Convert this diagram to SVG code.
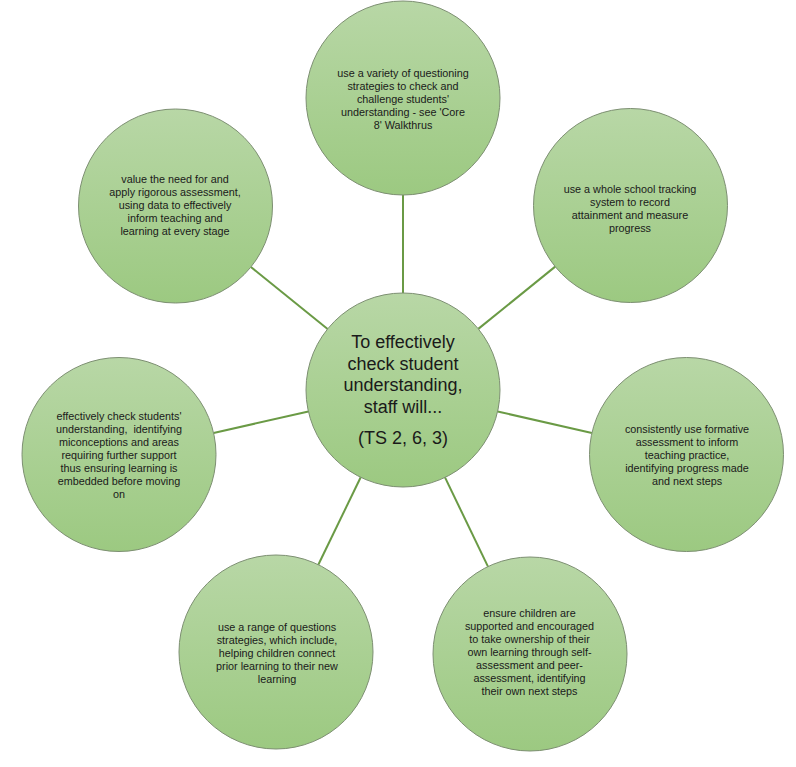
<svg xmlns="http://www.w3.org/2000/svg" width="796" height="767" viewBox="0 0 796 767">
<defs>
<linearGradient id="g" x1="0" y1="0" x2="0" y2="1">
<stop offset="0" stop-color="#b8d7a6"/>
<stop offset="1" stop-color="#9cc981"/>
</linearGradient>
<style>
.c{fill:url(#g);stroke:#7d8f72;stroke-width:1}
.t{font-family:"Liberation Sans",Arial,sans-serif;font-size:10.8px;fill:#1a1a1a;text-anchor:middle;white-space:pre}
.m{font-family:"Liberation Sans",Arial,sans-serif;font-size:18px;fill:#1a1a1a;text-anchor:middle}
.l{stroke:#6a9a45;stroke-width:2;fill:none}
</style>
</defs>
<rect width="796" height="767" fill="#ffffff"/>
<g id="connectors">
<line class="l" x1="403" y1="293" x2="403" y2="195"/>
<line class="l" x1="478.3" y1="328.9" x2="555.2" y2="266.6"/>
<line class="l" x1="497.6" y1="411.5" x2="591.9" y2="433"/>
<line class="l" x1="445" y1="477.4" x2="488" y2="566.6"/>
<line class="l" x1="360.7" y1="477.3" x2="318.3" y2="564.7"/>
<line class="l" x1="308.4" y1="411.5" x2="213.6" y2="433"/>
<line class="l" x1="327.6" y1="329" x2="250.9" y2="267"/>
</g>
<g id="center">
<circle class="c" cx="403" cy="390" r="97"/>
<text class="m"><tspan x="403" y="348">To effectively</tspan><tspan x="403" y="370">check student</tspan><tspan x="403" y="391">understanding,</tspan><tspan x="403" y="413">staff will...</tspan><tspan x="403" y="444">(TS 2, 6, 3)</tspan></text>
</g>
<g id="node-top">
<circle class="c" cx="403" cy="98" r="97"/>
<text class="t"><tspan x="403" y="77">use a variety of questioning</tspan><tspan x="403" y="90">strategies to check and</tspan><tspan x="403" y="103">challenge students'</tspan><tspan x="403" y="116">understanding - see 'Core</tspan><tspan x="403" y="129">8' Walkthrus</tspan></text>
</g>
<g id="node-top-right">
<circle class="c" cx="630.5" cy="205.5" r="97"/>
<text class="t"><tspan x="630" y="193">use a whole school tracking</tspan><tspan x="630" y="206">system to record</tspan><tspan x="630" y="219">attainment and measure</tspan><tspan x="630" y="232">progress</tspan></text>
</g>
<g id="node-right">
<circle class="c" cx="686.5" cy="454.5" r="97"/>
<text class="t"><tspan x="687" y="433">consistently use formative</tspan><tspan x="687" y="446">assessment to inform</tspan><tspan x="687" y="459">teaching practice,</tspan><tspan x="687" y="472">identifying progress made</tspan><tspan x="687" y="485">and next steps</tspan></text>
</g>
<g id="node-bottom-right">
<circle class="c" cx="530" cy="654" r="97"/>
<text class="t"><tspan x="529.5" y="617">ensure children are</tspan><tspan x="529.5" y="630">supported and encouraged</tspan><tspan x="529.5" y="643">to take ownership of their</tspan><tspan x="529.5" y="656">own learning through self-</tspan><tspan x="529.5" y="669">assessment and peer-</tspan><tspan x="529.5" y="682">assessment, identifying</tspan><tspan x="529.5" y="695">their own next steps</tspan></text>
</g>
<g id="node-bottom-left">
<circle class="c" cx="276" cy="652" r="97"/>
<text class="t"><tspan x="277" y="631">use a range of questions</tspan><tspan x="277" y="644">strategies, which include,</tspan><tspan x="277" y="657">helping children connect</tspan><tspan x="277" y="670">prior learning to their new</tspan><tspan x="277" y="683">learning</tspan></text>
</g>
<g id="node-left">
<circle class="c" cx="119" cy="454.5" r="97"/>
<text class="t"><tspan x="119" y="420">effectively check students'</tspan><tspan x="119" y="433">understanding,  identifying</tspan><tspan x="119" y="446">miconceptions and areas</tspan><tspan x="119" y="459">requiring further support</tspan><tspan x="119" y="472">thus ensuring learning is</tspan><tspan x="119" y="485">embedded before moving</tspan><tspan x="119" y="498">on</tspan></text>
</g>
<g id="node-top-left">
<circle class="c" cx="175.5" cy="206" r="97"/>
<text class="t"><tspan x="175" y="183">value the need for and</tspan><tspan x="175" y="196">apply rigorous assessment,</tspan><tspan x="175" y="209">using data to effectively</tspan><tspan x="175" y="222">inform teaching and</tspan><tspan x="175" y="235">learning at every stage</tspan></text>
</g>
</svg>
